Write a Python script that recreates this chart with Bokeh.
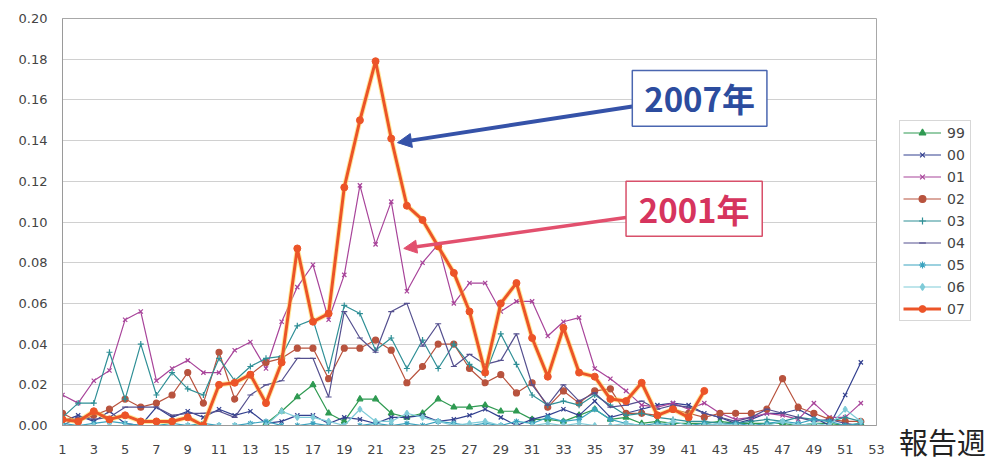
import math
from bokeh.plotting import figure
from bokeh.layouts import column
from bokeh.models import (Range1d, FixedTicker, NumeralTickFormatter, Legend, LegendItem,
                          BoxAnnotation, Label, Arrow, NormalHead, ColumnDataSource, Div)
from bokeh.embed import file_html
from bokeh.resources import INLINE

NaN = float("nan")

weeks = list(range(1, 53))
x_ticks = list(range(1, 54, 2))
y_ticks = [0.00, 0.02, 0.04, 0.06, 0.08, 0.10, 0.12, 0.14, 0.16, 0.18, 0.20]

s99 = [NaN] * 13 + [
    0.001, 0.007, 0.014, 0.020, 0.006, 0.002, 0.013, 0.013, 0.006, 0.004,
    0.006, 0.013, 0.009, 0.009, 0.010, 0.007, 0.007, 0.003, 0.003, 0.002,
    0.005, 0.008, 0.003, 0.004, 0.001, 0.002, 0.001, 0.001, 0.001, 0.002,
    0.001, 0.001, 0.001, 0.001, 0.000, 0.001, 0.001, 0.000, 0.001]

s00 = [0.002, 0.005, 0.002, 0.007, 0.001, 0.000, 0.009, 0.004, 0.007, 0.004,
       0.008, 0.005, 0.007, 0.001, 0.002, 0.005, 0.005, 0.001, 0.004, 0.003,
       0.001, 0.004, 0.004, 0.005, 0.002, 0.003, 0.005, 0.008, 0.004, 0.000,
       0.003, 0.005, 0.008, 0.005, 0.012, 0.004, 0.006, 0.008, 0.010, 0.011,
       0.010, 0.006, 0.004, 0.001, 0.003, 0.006, 0.006, 0.008, 0.004, 0.000,
       0.015, 0.031]

s01 = [0.015, 0.011, 0.022, 0.027, 0.052, 0.056, 0.022, 0.028, 0.032, 0.026,
       0.026, 0.037, 0.041, 0.028, 0.051, 0.068, 0.079, 0.052, 0.074, 0.118,
       0.089, 0.110, 0.066, 0.080, 0.089, 0.060, 0.070, 0.070, 0.056, 0.061,
       0.061, 0.044, 0.051, 0.053, 0.028, 0.023, 0.017, 0.010, 0.009, 0.011,
       0.008, 0.011, 0.006, 0.003, 0.004, 0.006, 0.005, 0.003, 0.011, 0.004,
       0.004, 0.011]

s02 = [0.006, 0.002, 0.005, 0.008, 0.013, 0.009, 0.011, 0.015, 0.026, 0.011,
       0.036, 0.013, 0.025, 0.031, 0.033, 0.038, 0.038, 0.023, 0.038, 0.038,
       0.042, 0.037, 0.021, 0.029, 0.040, 0.040, 0.028, 0.021, 0.025, 0.016,
       0.021, 0.009, 0.017, 0.011, 0.017, 0.018, 0.006, 0.006, 0.005, 0.008,
       0.006, 0.004, 0.006, 0.006, 0.006, 0.008, 0.023, 0.009, 0.006, 0.003,
       0.002, 0.002]

s03 = [0.004, 0.011, 0.011, 0.036, 0.013, 0.040, 0.015, 0.026, 0.018, 0.015,
       0.033, 0.022, 0.029, 0.033, 0.034, 0.049, 0.052, 0.027, 0.059, 0.055,
       0.037, 0.043, 0.028, 0.042, 0.028, 0.040, 0.030, 0.025, 0.045, 0.030,
       0.015, 0.010, 0.012, 0.010, 0.015, 0.010, 0.005, 0.006, 0.004, 0.003,
       0.002, 0.002, 0.001, 0.001, 0.002, 0.003, 0.002, 0.004, 0.003, 0.002,
       0.004, 0.002]

s04 = [0.000, 0.004, 0.003, 0.004, 0.009, 0.009, 0.009, 0.005, 0.006, 0.006,
       0.007, 0.004, 0.015, 0.020, 0.022, 0.033, 0.033, 0.014, 0.056, 0.043,
       0.036, 0.056, 0.060, 0.039, 0.050, 0.029, 0.035, 0.030, 0.032, 0.045,
       0.020, 0.010, 0.020, 0.012, 0.016, 0.009, 0.010, 0.012, 0.008, 0.010,
       0.009, 0.006, 0.004, 0.002, 0.004, 0.008, 0.006, 0.004, 0.002, 0.003,
       0.001, 0.000]

s05 = [0.001, 0.000, 0.001, 0.002, 0.001, 0.000, 0.000, 0.001, 0.000, 0.001,
       0.000, 0.000, 0.001, 0.002, 0.000, 0.000, 0.001, 0.000, 0.000, 0.000,
       0.001, 0.000, 0.001, 0.000, 0.002, 0.001, 0.000, 0.001, 0.000, 0.002,
       0.001, 0.004, 0.002, 0.003, 0.008, 0.003, 0.001, 0.000, 0.001, 0.000,
       0.000, 0.001, 0.000, 0.001, 0.000, 0.001, 0.002, 0.001, 0.003, 0.002,
       0.000, 0.001]

s06 = [0.000, 0.000, 0.000, 0.000, 0.000, 0.000, 0.000, 0.000, 0.000, 0.000,
       0.000, 0.000, 0.000, 0.000, 0.007, 0.004, 0.004, 0.002, 0.000, 0.008,
       0.002, 0.002, 0.006, 0.004, 0.002, 0.000, 0.001, 0.002, 0.000, 0.000,
       0.000, 0.001, 0.000, 0.001, 0.000, 0.000, 0.001, 0.000, 0.000, 0.002,
       0.000, 0.000, 0.001, 0.000, 0.000, 0.000, 0.002, 0.000, 0.001, 0.000,
       0.008, 0.002]

s07 = [0.003, 0.002, 0.007, 0.003, 0.005, 0.002, 0.002, 0.002, 0.004, 0.000,
       0.020, 0.021, 0.025, 0.011, 0.031, 0.087, 0.051, 0.055, 0.117, 0.150,
       0.179, 0.141, 0.108, 0.101, 0.088, 0.075, 0.056, 0.026, 0.060, 0.070,
       0.043, 0.024, 0.048, 0.026, 0.024, 0.013, 0.012, 0.021, 0.005, 0.008,
       0.004, 0.017]

series_names = ["99", "00", "01", "02", "03", "04", "05", "06", "07"]
series_values = [s99, s00, s01, s02, s03, s04, s05, s06, s07]
series_colors = ["#2f9a52", "#33408f", "#a8449a", "#b8533e", "#2f8f96",
                 "#55508f", "#3aa3bf", "#7fcbd8", "#ec5428"]
series_markers = ["triangle", "x", "x", "circle", "cross", "dash",
                  "asterisk", "diamond", "circle"]

p = figure(frame_width=814, frame_height=407, output_backend="svg",
           toolbar_location=None,
           x_range=Range1d(1, 53), y_range=Range1d(0, 0.20),
           min_border_left=62, min_border_right=117, min_border_top=18,
           min_border_bottom=37, background_fill_color="white",
           border_fill_color="white")

p.outline_line_color = "#a8a8a8"
p.xgrid.grid_line_color = None
p.ygrid.grid_line_color = "#d0d0d0"
p.ygrid.ticker = FixedTicker(ticks=y_ticks)

p.xaxis.ticker = FixedTicker(ticks=x_ticks)
p.yaxis.ticker = FixedTicker(ticks=y_ticks)
p.yaxis.formatter = NumeralTickFormatter(format="0.00")
for ax in (p.xaxis, p.yaxis):
    ax.major_tick_line_color = None
    ax.minor_tick_line_color = None
    ax.axis_line_color = "#9a9a9a"
    ax.major_label_text_font = "DejaVu Sans"
    ax.major_label_text_font_size = "13px"
    ax.major_label_text_color = "#444444"
p.xaxis.major_label_standoff = 13
p.yaxis.major_label_standoff = 9

items = []
for name, vals, col, mk in zip(series_names, series_values, series_colors, series_markers):
    xs = weeks[:len(vals)]
    src = ColumnDataSource(dict(x=xs, y=vals))
    rends = []
    if name == "07":
        p.line("x", "y", source=src, line_color="#ffd84a", line_width=5, line_alpha=0.55)
        rends.append(p.line("x", "y", source=src, line_color=col, line_width=3))
        rends.append(p.scatter("x", "y", source=src, marker=mk, size=7,
                               fill_color=col, line_color=col))
    else:
        rends.append(p.line("x", "y", source=src, line_color=col, line_width=1.2))
        rends.append(p.scatter("x", "y", source=src, marker=mk, size=6,
                               fill_color=col, line_color=col, line_width=1.2))
    items.append(LegendItem(label=name, renderers=rends))

legend = Legend(items=items, location=(23, 104), border_line_color="#b0b0b0",
                background_fill_color="white", padding=3, spacing=5, margin=0,
                label_height=17, glyph_height=17, glyph_width=38, label_standoff=6,
                label_text_font="DejaVu Sans", label_text_font_size="14px",
                label_text_color="#444444")
p.add_layout(legend, "right")

# annotations
blue = "#3552a8"
red = "#e2506e"
p.add_layout(Arrow(end=NormalHead(size=14, fill_color=blue, line_color=blue),
                   x_start=37.4, y_start=0.1568, x_end=22.4, y_end=0.139,
                   line_color=blue, line_width=4))
p.add_layout(Arrow(end=NormalHead(size=13, fill_color=red, line_color=red),
                   x_start=37.0, y_start=0.1022, x_end=22.8, y_end=0.087,
                   line_color=red, line_width=3.5))
p.add_layout(BoxAnnotation(left=37.4, right=46.0, bottom=0.147, top=0.1744,
                           fill_color="white", fill_alpha=1.0,
                           line_color="#4a66b0", line_alpha=1.0, line_width=1.5))
p.add_layout(BoxAnnotation(left=37.0, right=45.7, bottom=0.093, top=0.120,
                           fill_color="white", fill_alpha=1.0,
                           line_color="#d8506a", line_alpha=1.0, line_width=1.5))
p.add_layout(Label(x=41.7, y=0.1607, text="2007年", text_align="center",
                   text_baseline="middle", text_font="Noto Sans CJK JP",
                   text_font_style="bold", text_font_size="33px",
                   text_color="#2c4c9e"))
p.add_layout(Label(x=41.35, y=0.1065, text="2001年", text_align="center",
                   text_baseline="middle", text_font="Noto Sans CJK JP",
                   text_font_style="bold", text_font_size="33px",
                   text_color="#d6345e"))

xlabel = Div(text="報告週", width=92, height=42, margin=(-42, 0, 0, 899),
             styles={"font-family": "Noto Sans CJK JP", "font-size": "29px",
                     "color": "#222222", "line-height": "42px",
                     "white-space": "nowrap"})

layout = column(p, xlabel, spacing=0)
open("out.html", "w").write(file_html(layout, INLINE))
